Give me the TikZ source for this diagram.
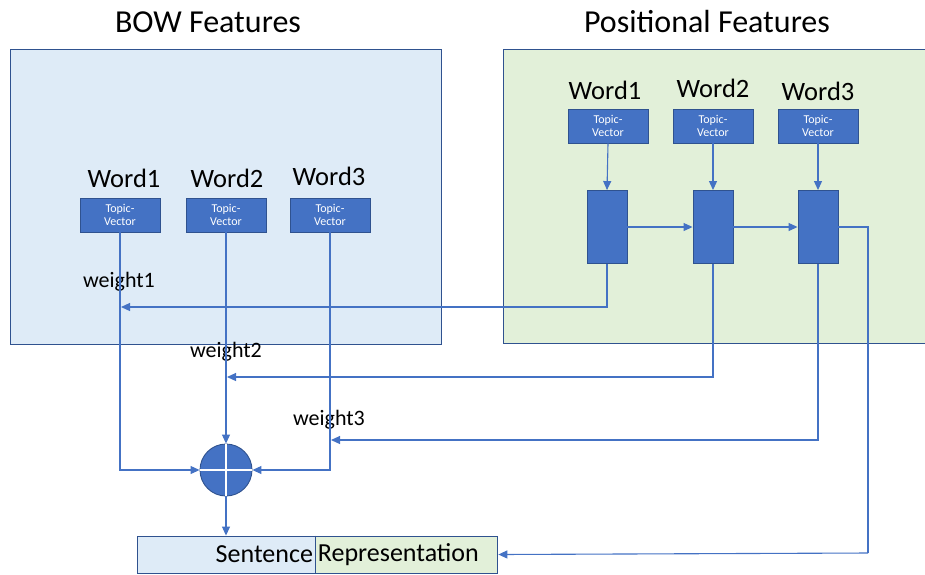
\documentclass[tikz,border=0pt]{standalone}
\usepackage{fontspec}
\setmainfont{Carlito}
\usetikzlibrary{arrows.meta,positioning}
\definecolor{bowfill}{HTML}{DEEBF7}
\definecolor{posfill}{HTML}{E2F0D9}
\definecolor{boxblue}{HTML}{4472C4}
\definecolor{boxedge}{HTML}{2F528F}
\begin{document}
\begin{tikzpicture}[x=1pt, y=-1pt,
  panel/.style={draw=boxedge, line width=0.9pt, anchor=north west},
  title/.style={font=\fontsize{32}{36}\selectfont},
  word/.style={font=\fontsize{26.5}{30}\selectfont},
  topic/.style={draw=boxedge, fill=boxblue, text=white, line width=0.9pt,
    minimum width=80pt, minimum height=34pt, align=center, inner sep=1pt,
    font=\fontsize{12}{13}\selectfont},
  cell/.style={draw=boxedge, fill=boxblue, line width=0.9pt,
    minimum width=40pt, minimum height=73pt},
  weight/.style={font=\fontsize{22}{26}\selectfont},
  arr/.style={draw=boxblue, line width=1.1pt, -{Triangle[length=9pt,width=8pt]}},
  link/.style={draw=boxblue, line width=1.1pt}]
\useasboundingbox (0,0) rectangle (925,574);
% panels
\node[panel, fill=bowfill, minimum width=431pt, minimum height=295pt] (bow) at (10,49) {};
\node[panel, fill=posfill, minimum width=426pt, minimum height=294pt] (pos) at (503,49) {};
\node[title] (bowtitle) at (208,22) {BOW Features};
\node[title] (postitle) at (707,22) {Positional Features};
% bag of words
\node[topic] (tl1) at (120,215) {Topic-\\Vector};
\node[topic] (tl2) at (226,215) {Topic-\\Vector};
\node[topic] (tl3) at (330,215) {Topic-\\Vector};
\node[word] (wl1) at (124,178) {Word1};
\node[word] (wl2) at (227,178) {Word2};
\node[word] (wl3) at (329,176) {Word3};
% positional
\node[topic] (tr1) at (608,126) {Topic-\\Vector};
\node[topic] (tr2) at (713,126) {Topic-\\Vector};
\node[topic] (tr3) at (818,126) {Topic-\\Vector};
\node[word] (wr1) at (605,90) {Word1};
\node[word] (wr2) at (713,88) {Word2};
\node[word] (wr3) at (818,91) {Word3};
\node[cell] (rc1) at (607,227) {};
\node[cell] (rc2) at (713,227) {};
\node[cell] (rc3) at (818,227) {};
% sum and output
\node[circle, draw=boxedge, fill=boxblue, line width=0.9pt, minimum size=52pt, inner sep=0pt] (sum) at (226,470) {};
\node[draw=boxedge, fill=bowfill, line width=0.9pt, minimum width=178pt, minimum height=37pt,
  text width=174pt, align=right, inner sep=2pt, font=\fontsize{26}{30}\selectfont] (sentl) at (226,554.5) {Sentence};
\node[draw=boxedge, fill=posfill, line width=0.9pt, minimum width=182pt, minimum height=37pt,
  text width=178pt, align=left, inner sep=2pt, font=\fontsize{26}{30}\selectfont, anchor=west] (sentr) at (sentl.east) {Representation};
\draw[boxedge, line width=1.4pt] (sentl.north east) -- (sentl.south east);
\coordinate (wt1) at (121,307);
\coordinate (wt2) at (227,377);
\coordinate (wt3) at (331,440);
\coordinate (turn) at (868,553);
\node[weight] (lw1) at (119,282) {weight1};
\node[weight] (lw2) at (226,352) {weight2};
\node[weight] (lw3) at (329,420) {weight3};
% connectors
\draw[arr] (tr1.south) -- (rc1.north);
\draw[arr] (tr2.south) -- (rc2.north);
\draw[arr] (tr3.south) -- (rc3.north);
\draw[arr] (rc1.east) -- (rc2.west);
\draw[arr] (rc2.east) -- (rc3.west);
\draw[arr] (rc1.south) |- (wt1);
\draw[arr] (rc2.south) |- (wt2);
\draw[arr] (rc3.south) |- (wt3);
\draw[arr] (tl1.south) |- (sum.west);
\draw[arr] (tl2.south) -- (sum.north);
\draw[arr] (tl3.south) |- (sum.east);
\draw[white, line width=1.2pt] (sum.north) -- (sum.south) (sum.west) -- (sum.east);
\draw[arr] (sum.south) -- (sentl.north);
\draw[link] (rc3.east) -| (turn);
\draw[arr] (turn) -- (sentr.east);
\end{tikzpicture}
\end{document}
